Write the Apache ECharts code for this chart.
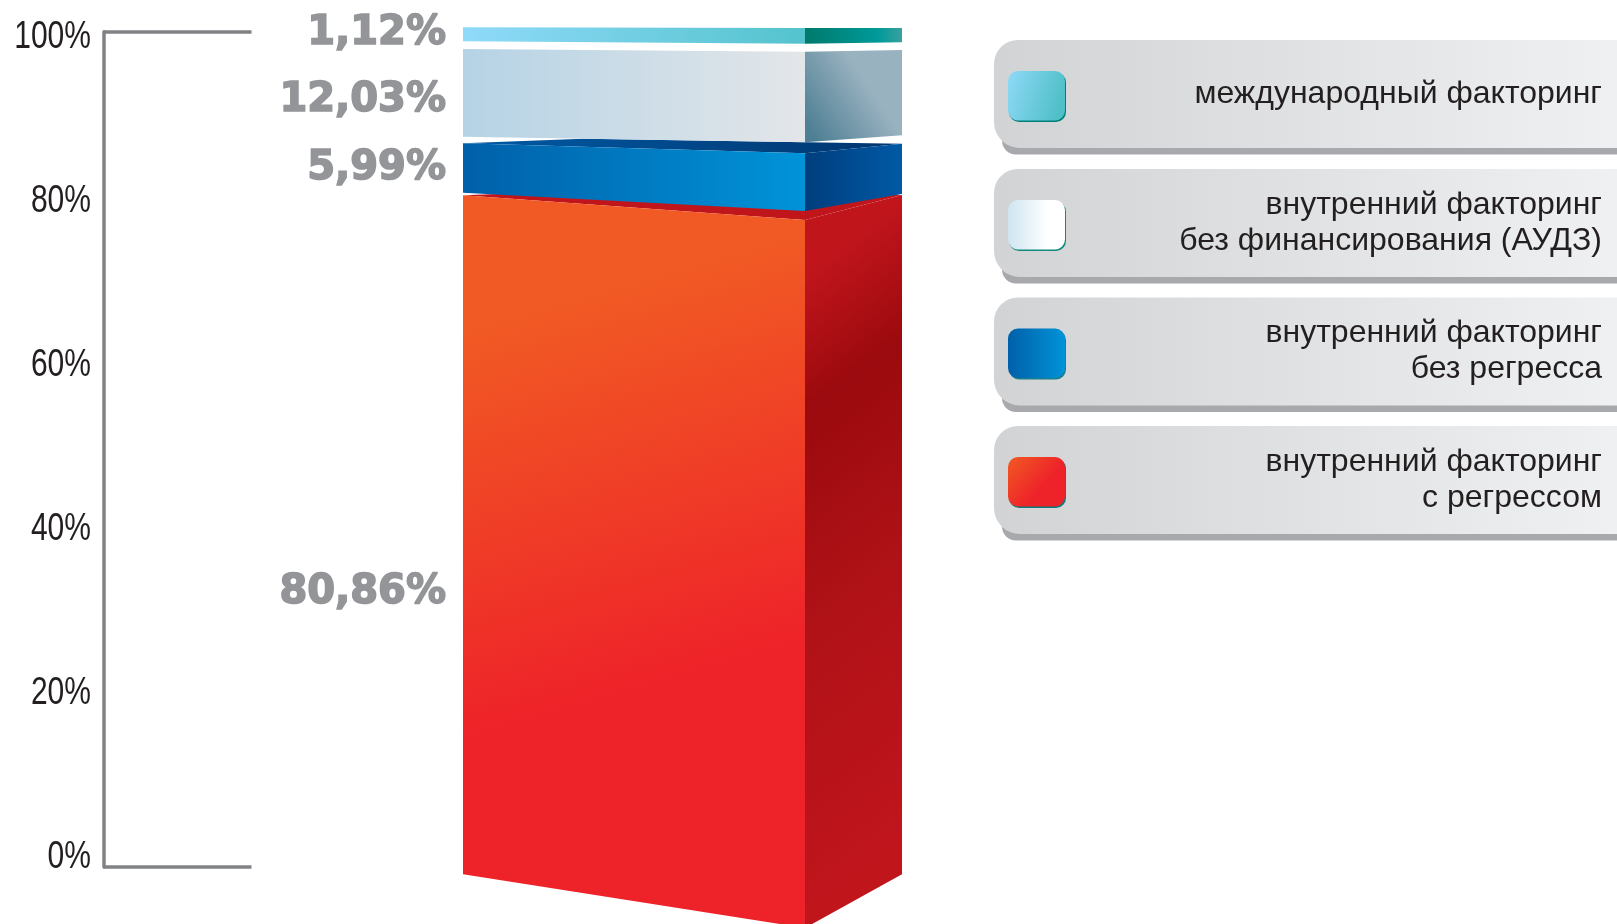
<!DOCTYPE html>
<html><head><meta charset="utf-8">
<style>html,body{margin:0;padding:0;background:#fff}#c{width:1617px;height:924px}</style>
<script src="https://cdn.jsdelivr.net/npm/echarts@6/dist/echarts.min.js"></script>
</head><body><div id="c"></div>
<script>
// ---- data (bottom to top) ----
const categories = ['Факторинг'];
const seriesNames = ['внутренний факторинг\nс регрессом','внутренний факторинг\nбез регресса','внутренний факторинг\nбез финансирования (АУДЗ)','международный факторинг'];
const shares = [80.86, 5.99, 12.03, 1.12];
const shareLabels = ['80,86%','5,99%','12,03%','1,12%'];
// extents of each block on the drawing's own 0-100 scale, measured at the block's left edge
const blockLow  = [-0.87, 80.73, 87.43, 98.85];
const blockHigh = [80.41, 86.64, 97.93, 100.53];
const labelAt   = [32.9, 83.55, 91.8, 99.75];
const axisTicks = [0,20,40,60,80,100];

// ---- drawing geometry ----
const LEFT = -219.5, FRONT = 122.5, RIGHT = 219.5;
// pixel offsets from left-edge y: [front top, side top, front bottom, side bottom]
const skew = [[24.7,-0.3,53.7,0],[10,0.4,18.3,1.3],[2.7,1,5.6,-1.4],[0.7,0.7,2.4,1]];
const lin=(x,y,x2,y2,st,global)=>({type:'linear',x,y,x2,y2,global:!!global,colorStops:st.map(s=>({offset:s[0],color:s[1]}))});
const fills = [
 {front:lin(0,0,0.42,0.68,[[0,'#f15a24'],[0.25,'#f15a24'],[1,'#ee2329']]),
  side:lin(805,200,1154,666,[[0,'#c1151c'],[0.1,'#c1151c'],[0.29,'#9b0a0e'],[0.6,'#b01217'],[1,'#c1151c']],true),
  top:'#c1151c'},
 {front:lin(0,0,1,0,[[0,'#0060a9'],[1,'#0093d8']]),side:lin(0,0,1,0,[[0,'#003e7e'],[1,'#0059a5']]),top:lin(0,0,1,0,[[0,'#005aa5'],[1,'#00356f']])},
 {front:lin(0,0,1,0,[[0,'#b5d3e5'],[1,'#e3e6e9']]),side:lin(0,0.8,0.85,0.2,[[0,'#4f7f94'],[0.75,'#99b2c0'],[1,'#99b2c0']])},
 {front:lin(0,0,1,0,[[0,'#8fdaf9'],[1,'#54c3cd']]),side:lin(0,0,1,0,[[0,'#007a6c'],[0.75,'#009a9a'],[1,'#3aa0a0']])}
];

function block(i){
 return function(params,api){
  const cx = api.coord([0,0])[0];
  const yT = api.coord([0,api.value(1)])[1], yB = api.coord([0,api.value(0)])[1];
  const s = skew[i], xl=cx+LEFT, xf=cx+FRONT, xr=cx+RIGHT;
  const kids = [];
  if(fills[i].top){
   kids.push({type:'polygon',shape:{points:[[xl,yT],[xl+120,yT-4.6],[xr,yT+s[1]],[xf,yT+s[0]]]},style:{fill:fills[i].top}});
  }
  kids.push({type:'polygon',shape:{points:[[xf,yT+s[0]],[xr,yT+s[1]],[xr,yB+s[3]],[xf,yB+s[2]]]},style:{fill:fills[i].side}});
  kids.push({type:'polygon',shape:{points:[[xl,yT],[xf,yT+s[0]],[xf,yB+s[2]],[xl,yB]]},style:{fill:fills[i].front}});
  return {type:'group',children:kids};
 };
}
function labelItem(params,api){
 const p = api.coord([0,api.value(0)]);
 return {type:'text',style:{x:446,y:p[1],text:shareLabels[params.dataIndex],align:'right',verticalAlign:'middle',
   fill:'#939598',stroke:'#939598',lineWidth:1.6,font:'bold 40px "DejaVu Sans"'}};
}
function tickItem(params,api){
 const p = api.coord([0,api.value(0)]);
 return {type:'text',x:91,y:p[1]+3,scaleX:0.79,style:{x:0,y:0,text:api.value(0)+'%',align:'right',verticalAlign:'middle',
   fill:'#231f20',font:'38px "Liberation Sans"'}};
}

const series = shares.map((v,i)=>({
  type:'custom',name:seriesNames[i],xAxisIndex:0,yAxisIndex:0,clip:false,silent:true,
  renderItem:block(i),data:[[blockLow[i],blockHigh[i],v]],encode:{y:[0,1]},z:2+i
}));
series.push({type:'custom',name:'labels',xAxisIndex:0,yAxisIndex:0,clip:false,silent:true,renderItem:labelItem,
  data:labelAt.map((v,i)=>[v,shares[i]]),encode:{y:0},z:10});
// tick labels on their own scale (they are spaced a little tighter than the bracket in the picture)
series.push({type:'custom',name:'ticks',xAxisIndex:1,yAxisIndex:1,clip:false,silent:true,renderItem:tickItem,
  data:axisTicks.map(v=>[v]),encode:{y:0},z:10});

// ---- legend plates ----
const plateTops = [40,169,297.5,426];
const legendOrder = [3,2,1,0];
const swatches = [
 {fill:lin(0,0,1,0.35,[[0,'#8fd9f7'],[1,'#50c0c8']]),edge:'#007f78'},
 {fill:lin(0,0,1,0,[[0,'#cfe5f1'],[0.7,'#ffffff'],[1,'#ffffff']]),edge:'#12897f'},
 {fill:lin(0,0,1,0,[[0,'#0060a9'],[1,'#0093d8']]),edge:'#1a7f8c'},
 {fill:lin(0,0,1,1,[[0,'#f15a24'],[0.6,'#ee2329'],[1,'#ee2329']]),edge:'#0c7a78'}
];
const graphic = [];
plateTops.forEach((t,k)=>{
 graphic.push({type:'rect',silent:true,shape:{x:1002,y:t+30,width:660,height:84.5,r:[0,0,0,14]},style:{fill:'#a7a9ac'}});
 graphic.push({type:'rect',silent:true,shape:{x:994,y:t,width:640,height:108,r:[24,0,0,26]},
   style:{fill:lin(0,0,1,0,[[0,'#d1d3d4'],[1,'#f0f1f2']])}});
 const h=49.5,y=t+31;
 graphic.push({type:'rect',silent:true,shape:{x:1009,y:y+1.5,width:57,height:h,r:10},style:{fill:swatches[k].edge}});
 graphic.push({type:'rect',silent:true,shape:{x:1008,y:y,width:57,height:h,r:10},style:{fill:swatches[k].fill}});
 const lines = seriesNames[legendOrder[k]];
 graphic.push({type:'text',silent:true,style:{x:1602,y:t+54,text:lines,align:'right',verticalAlign:'middle',
   fill:'#231f20',font:'32px "Liberation Sans"',lineHeight:36}});
});

const chart = echarts.init(document.getElementById('c'),null,{renderer:'canvas'});
chart.setOption({
 animation:false,backgroundColor:'#fff',
 grid:[
  {left:103.5,top:31.7,width:1158,height:835.3,containLabel:false},
  {left:103.5,top:35,width:1158,height:820,containLabel:false}
 ],
 xAxis:[
  {type:'category',gridIndex:0,data:categories,show:false},
  {type:'category',gridIndex:1,data:categories,show:false}
 ],
 yAxis:[
  {type:'value',gridIndex:0,min:0,max:100,interval:100,
   axisLine:{show:true,lineStyle:{color:'#808285',width:3.5}},
   axisTick:{show:true,inside:true,length:148,lineStyle:{color:'#808285',width:3.5}},
   axisLabel:{show:false},splitLine:{show:false}},
  {type:'value',gridIndex:1,min:0,max:100,interval:20,show:false}
 ],
 series,graphic
});
</script></body></html>
